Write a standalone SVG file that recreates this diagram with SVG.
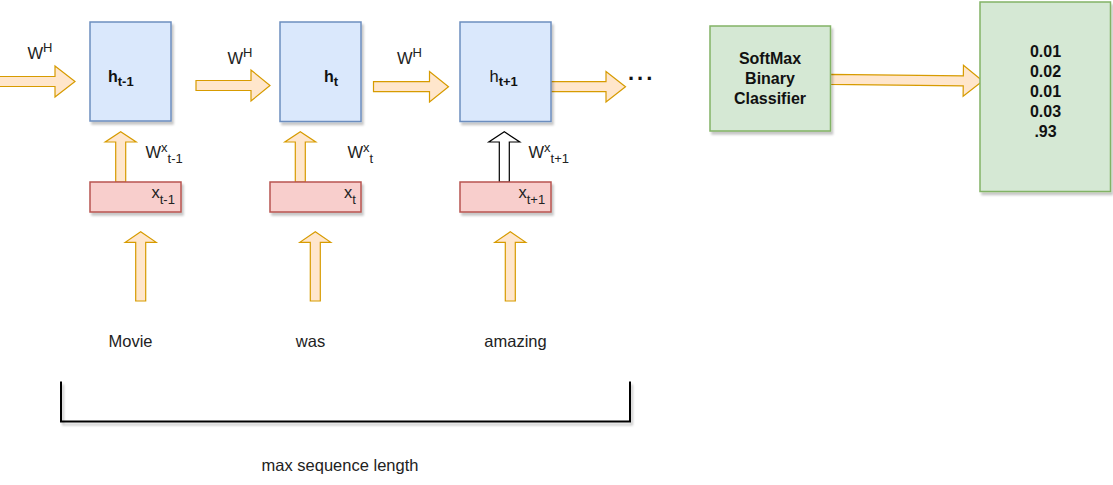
<svg xmlns="http://www.w3.org/2000/svg" width="1113" height="485" viewBox="0 0 1113 485">
<defs>
<filter id="sh" x="-10%" y="-10%" width="130%" height="130%">
<feDropShadow dx="2" dy="3" stdDeviation="0.8" flood-color="#000" flood-opacity="0.22"/>
</filter>
<style>
.h{fill:#dae8fc;stroke:#6c8ebf;stroke-width:1.5;filter:url(#sh)}
.x{fill:#f8cecc;stroke:#b85450;stroke-width:1.5;filter:url(#sh)}
.g{fill:#d5e8d4;stroke:#82b366;stroke-width:1.5;filter:url(#sh)}
.ar{fill:#ffe6cc;stroke:#d79b00;stroke-width:1.2;stroke-linejoin:miter}
.arw{fill:#ffffff;stroke:#000;stroke-width:1.2}
text{font-family:"Liberation Sans",Arial,sans-serif;fill:#222}
.lb{font-size:16.5px}
.b{font-weight:bold;font-size:16px;fill:#111}
.sub{font-size:13px}
</style>
</defs>
<rect width="1113" height="485" fill="#fff"/>

<g id="connectors">
<polygon class="ar" points="-2,76.5 55,76.5 55,66 75,81.5 55,97 55,86.5 -2,86.5"/>
<polygon class="ar" points="196,80.5 251,80.5 251,70 270,85.5 251,101 251,90.5 196,90.5"/>
<polygon class="ar" points="373.5,81.7 429.5,81.7 429.5,71.5 448.5,86.7 429.5,102 429.5,91.7 373.5,91.7"/>
<polygon class="ar" points="550.5,81.7 606,81.7 606,71.5 625.5,86.7 606,102 606,91.7 550.5,91.7"/>
<polygon class="ar" transform="rotate(0.64 830 79.3)" points="830,74.3 963.3,74.3 963.3,63.8 982.7,79.3 963.3,94.8 963.3,84.3 830,84.3"/>
<polygon class="ar" points="115.7,182 115.7,142 105.2,142 120.7,131.7 136.2,142 125.7,142 125.7,182"/>
<polygon class="ar" points="295.3,182 295.3,142 284.8,142 300.3,131.7 315.8,142 305.3,142 305.3,182"/>
<polygon class="arw" points="499.3,182 499.3,142 488.8,142 504.3,131.7 519.8,142 509.3,142 509.3,182"/>
<polygon class="ar" points="135.7,301 135.7,242.3 125.2,242.3 140.7,231.7 156.2,242.3 145.7,242.3 145.7,301"/>
<polygon class="ar" points="310.3,301 310.3,242.3 299.8,242.3 315.3,231.7 330.8,242.3 320.3,242.3 320.3,301"/>
<polygon class="ar" points="505.3,301 505.3,242.3 494.8,242.3 510.3,231.7 525.8,242.3 515.3,242.3 515.3,301"/>
</g>

<g id="h_tm1"><rect class="h" x="90" y="22" width="81" height="99"/>
<text class="b" x="108" y="81.7">h<tspan class="sub" y="86">t-1</tspan></text></g>
<g id="h_t"><rect class="h" x="280" y="22" width="81" height="99.5"/>
<text class="b" x="324" y="81.7">h<tspan class="sub" y="86">t</tspan></text></g>
<g id="h_tp1"><rect class="h" x="460" y="22" width="91" height="99.5"/>
<text x="489.5" y="81.7" style="font-size:16.5px;fill:#111">h<tspan class="sub" style="font-weight:bold" y="86">t+1</tspan></text></g>

<g id="x_tm1"><rect class="x" x="90" y="182" width="91" height="30"/>
<text class="lb" x="151.5" y="198">x<tspan class="sub" y="204">t-1</tspan></text></g>
<g id="x_t"><rect class="x" x="270" y="182" width="91" height="30"/>
<text class="lb" x="344" y="198">x<tspan class="sub" y="204">t</tspan></text></g>
<g id="x_tp1"><rect class="x" x="460" y="182" width="91" height="30"/>
<text class="lb" x="518.5" y="198">x<tspan class="sub" y="204">t+1</tspan></text></g>

<g id="labels">
<text class="lb" x="27.5" y="59">W<tspan class="sub" y="52">H</tspan></text>
<text class="lb" x="227.5" y="64">W<tspan class="sub" y="57">H</tspan></text>
<text class="lb" x="397" y="63.5">W<tspan class="sub" y="56.5">H</tspan></text>
<text class="lb" x="145.5" y="158.3">W<tspan class="sub" y="151.5">x</tspan><tspan class="sub" y="162.5">t-1</tspan></text>
<text class="lb" x="347.5" y="158.3">W<tspan class="sub" y="151.5">x</tspan><tspan class="sub" y="162.5">t</tspan></text>
<text class="lb" x="528.5" y="158.3">W<tspan class="sub" y="151.5">x</tspan><tspan class="sub" y="162.5">t+1</tspan></text>
<text x="628" y="79.5" style="font-size:22px;font-weight:bold;fill:#111;letter-spacing:3px">...</text>
<text class="lb" x="130.5" y="346.7" text-anchor="middle">Movie</text>
<text class="lb" x="310.5" y="346.7" text-anchor="middle">was</text>
<text class="lb" x="515.5" y="346.7" text-anchor="middle">amazing</text>
<text class="lb" x="340" y="470.5" text-anchor="middle">max sequence length</text>
</g>

<g id="bracket"><path d="M61,381.5 V421.5 H630 V381.5" fill="none" stroke="#000" stroke-width="2" filter="url(#sh)"/></g>

<g id="softmax"><rect class="g" x="710" y="26" width="120.5" height="105"/>
<text class="b" x="770" y="64" text-anchor="middle">SoftMax</text>
<text class="b" x="770" y="84" text-anchor="middle">Binary</text>
<text class="b" x="770" y="104" text-anchor="middle">Classifier</text></g>

<g id="output"><rect class="g" x="980" y="2" width="130.5" height="189.5"/>
<text class="b" x="1045.5" y="56.7" text-anchor="middle">0.01</text>
<text class="b" x="1045.5" y="76.7" text-anchor="middle">0.02</text>
<text class="b" x="1045.5" y="96.7" text-anchor="middle">0.01</text>
<text class="b" x="1045.5" y="116.7" text-anchor="middle">0.03</text>
<text class="b" x="1045.5" y="136.7" text-anchor="middle">.93</text></g>
</svg>
